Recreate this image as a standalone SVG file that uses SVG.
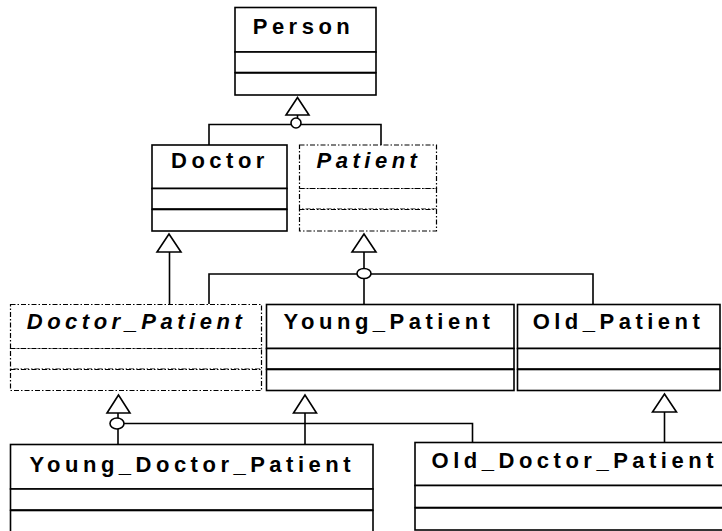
<svg xmlns="http://www.w3.org/2000/svg" width="722" height="531" viewBox="0 0 722 531">
<style>
.bx{fill:#fff;stroke:#000;stroke-width:1.6}
.ab{fill:#fff;stroke:#000;stroke-width:1.2;stroke-dasharray:5,2,1.5,2}
.t{font-family:"Liberation Sans",Arial,sans-serif;font-weight:bold;font-size:22px;letter-spacing:4.5px;text-anchor:middle;fill:#000}
.i{font-style:italic}
.ln{fill:none;stroke:#000;stroke-width:1.6}
.tri{fill:#fff;stroke:#000;stroke-width:1.6}
.loop{fill:#fff;stroke:#000;stroke-width:1.6}
</style>
<rect width="722" height="531" fill="#fff"/>
<g id="connectors">
<!-- Person generalization -->
<polyline class="ln" points="209,145 209,124.5 381,124.5 381,145"/>
<line class="ln" x1="297.5" y1="115" x2="297.5" y2="124.5"/>
<circle class="loop" cx="296" cy="123" r="5"/>
<polygon class="tri" points="297.5,97.5 286,115 309,115"/>
<!-- Doctor generalization -->
<line class="ln" x1="169.5" y1="252" x2="169.5" y2="304"/>
<polygon class="tri" points="169,234 157,252 181,252"/>
<!-- Patient generalization -->
<polyline class="ln" points="209,304 209,274 593,274 593,304"/>
<line class="ln" x1="364" y1="252" x2="364" y2="304"/>
<ellipse class="loop" cx="364" cy="273.5" rx="7" ry="5"/>
<polygon class="tri" points="364,234 352,252 376,252"/>
<!-- Doctor_Patient generalization -->
<polyline class="ln" points="123,423.5 472.5,423.5 472.5,442.5"/>
<line class="ln" x1="118" y1="413" x2="118" y2="444.5"/>
<ellipse class="loop" cx="117" cy="423.5" rx="7" ry="5.5"/>
<polygon class="tri" points="118.5,395 107,413 130,413"/>
<!-- Young_Patient generalization -->
<line class="ln" x1="305" y1="413" x2="305" y2="444.5"/>
<polygon class="tri" points="305,395 293.5,413 316.5,413"/>
<!-- Old_Patient generalization -->
<line class="ln" x1="664.5" y1="412" x2="664.5" y2="442.5"/>
<polygon class="tri" points="664.5,394 652.5,412 676.5,412"/>
</g>
<g id="Person">
<rect class="bx" x="235" y="7.5" width="141" height="44.5"/>
<rect class="bx" x="235" y="52" width="141" height="20.5"/>
<rect class="bx" x="235" y="73" width="141" height="22"/>
<text class="t" x="303.5" y="33.5">Person</text>
</g>
<g id="Doctor">
<rect class="bx" x="152" y="145" width="135" height="43.5"/>
<rect class="bx" x="152" y="188.5" width="135" height="20.5"/>
<rect class="bx" x="152" y="209.5" width="135" height="21.5"/>
<text class="t" x="220" y="167.5">Doctor</text>
</g>
<g id="Patient">
<rect class="ab" x="299.5" y="145" width="137" height="43.5"/>
<rect class="ab" x="299.5" y="188.5" width="137" height="20.5"/>
<rect class="ab" x="299.5" y="209.5" width="137" height="21.5"/>
<text class="t i" x="369" y="167.5">Patient</text>
</g>
<g id="Doctor_Patient">
<rect class="ab" x="10.5" y="304.5" width="251" height="44"/>
<rect class="ab" x="10.5" y="348.5" width="251" height="20.5"/>
<rect class="ab" x="10.5" y="369.5" width="251" height="21"/>
<text class="t i" x="136.5" y="329">Doctor_Patient</text>
</g>
<g id="Young_Patient">
<rect class="bx" x="266.5" y="304.5" width="247.5" height="44"/>
<rect class="bx" x="266.5" y="348.5" width="247.5" height="20.5"/>
<rect class="bx" x="266.5" y="369.5" width="247.5" height="21"/>
<text class="t" x="389" y="328.5">Young_Patient</text>
</g>
<g id="Old_Patient">
<rect class="bx" x="517.5" y="304.5" width="202.5" height="44"/>
<rect class="bx" x="517.5" y="348.5" width="202.5" height="20.5"/>
<rect class="bx" x="517.5" y="369.5" width="202.5" height="21"/>
<text class="t" x="618.5" y="328.5">Old_Patient</text>
</g>
<g id="Young_Doctor_Patient">
<rect class="bx" x="10.5" y="444.5" width="362.5" height="44.5"/>
<rect class="bx" x="10.5" y="489" width="362.5" height="21"/>
<rect class="bx" x="10.5" y="510.5" width="362.5" height="35"/>
<text class="t" x="192.3" y="471.5">Young_Doctor_Patient</text>
</g>
<g id="Old_Doctor_Patient">
<rect class="bx" x="415" y="442.5" width="322" height="43"/>
<rect class="bx" x="415" y="485.5" width="322" height="22"/>
<rect class="bx" x="415" y="508" width="322" height="22"/>
<text class="t" x="574.8" y="467.5">Old_Doctor_Patient</text>
</g>
</svg>
